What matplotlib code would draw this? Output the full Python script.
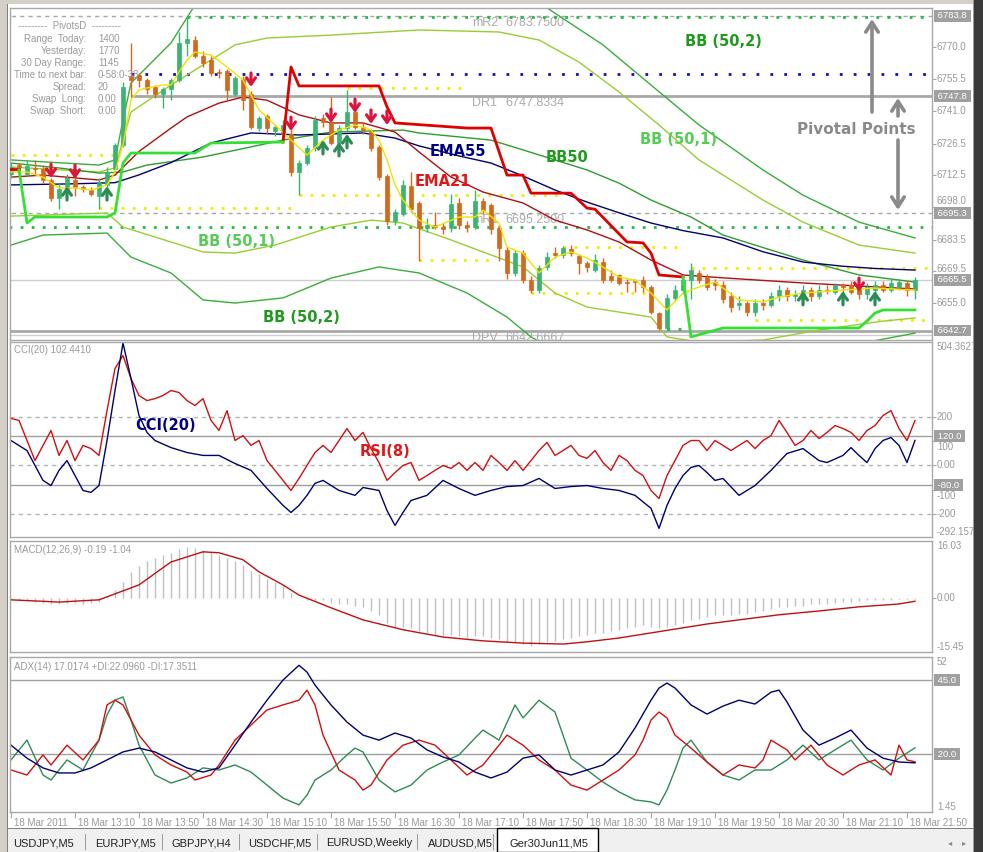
import matplotlib
matplotlib.use("Agg")
import matplotlib.pyplot as plt
from matplotlib.patches import Rectangle, FancyArrowPatch
from matplotlib.transforms import blended_transform_factory, ScaledTranslation

# ---------------- data ----------------
tick_bars = [0, 8, 16, 24, 32, 40, 48, 56, 64, 72, 80, 88, 96, 104, 112]
tick_labels = ["18 Mar 2011", "18 Mar 13:10", "18 Mar 13:50", "18 Mar 14:30", "18 Mar 15:10",
               "18 Mar 15:50", "18 Mar 16:30", "18 Mar 17:10", "18 Mar 17:50", "18 Mar 18:30",
               "18 Mar 19:10", "18 Mar 19:50", "18 Mar 20:30", "18 Mar 21:10", "18 Mar 21:50"]

opens = [6713, 6717, 6713, 6715.5, 6715, 6710, 6702, 6705, 6710, 6707,
         6705.5, 6703, 6708, 6715, 6726, 6757, 6757.3, 6755, 6752, 6749,
         6751, 6755, 6771.6, 6773, 6766, 6764, 6758.6, 6759, 6749, 6755.5,
         6749, 6733.5, 6739, 6732, 6731, 6731, 6714, 6718, 6724.5, 6738,
         6736, 6727, 6733.5, 6740.6, 6734, 6732, 6725, 6712, 6692, 6695,
         6707.5, 6700, 6688.6, 6690, 6689, 6688.6, 6700, 6690, 6689, 6701,
         6699, 6688.6, 6679, 6668.5, 6677.4, 6665.3, 6661, 6671, 6677.4, 6676.5,
         6679.3, 6676, 6673, 6670, 6673.4, 6667, 6667.6, 6664.4, 6664.8, 6665.3,
         6662, 6650.5, 6644, 6657.3, 6661, 6665.3, 6668.4, 6666.6, 6664.4, 6663,
         6658, 6654, 6655, 6651, 6655, 6654, 6658, 6661, 6658, 6657,
         6661, 6658, 6661, 6660, 6663, 6663, 6663, 6659, 6661, 6663,
         6661, 6662, 6664, 6661]
closes = [6716, 6716, 6716.5, 6715, 6710, 6702, 6706, 6711, 6707, 6706,
          6704, 6709, 6714, 6726, 6752, 6755, 6755, 6751, 6749, 6751,
          6755, 6771.6, 6773.4, 6766, 6762.6, 6758, 6758.2, 6750.6, 6756, 6746,
          6734, 6738, 6733.5, 6734, 6735, 6714, 6718, 6724.5, 6737, 6736,
          6727, 6733.5, 6740.6, 6734, 6732.7, 6724.5, 6711.5, 6692, 6696, 6708,
          6697, 6688.6, 6690, 6689, 6688, 6699.3, 6690, 6689.3, 6701, 6696.7,
          6688, 6679.7, 6668.5, 6677.4, 6665.3, 6661, 6670.6, 6675.6, 6676.5, 6679.7,
          6677.4, 6673, 6671, 6674.3, 6665.3, 6665.3, 6664, 6664, 6664.6, 6662,
          6651, 6644, 6657.3, 6660.8, 6665.3, 6669.7, 6665.3, 6662, 6663, 6657,
          6653, 6655, 6651, 6655, 6654, 6658, 6661, 6658, 6659, 6661,
          6658, 6661, 6660.5, 6663, 6662, 6660, 6659, 6662, 6663, 6661,
          6664, 6664.5, 6661, 6665.5]
highs = [6718, 6718, 6719, 6719, 6717, 6711, 6709, 6713, 6712, 6708,
         6707, 6711, 6716, 6727, 6754, 6771.6, 6758, 6756, 6753, 6752,
         6756, 6776.6, 6783.3, 6775, 6768, 6766, 6760, 6760, 6757, 6757,
         6750, 6739, 6740, 6735, 6737, 6733, 6719, 6726, 6739, 6740,
         6747.4, 6735, 6750.6, 6742, 6736, 6733, 6726, 6713, 6697, 6710,
         6714, 6701, 6693, 6696, 6691, 6704, 6702, 6692, 6705.7, 6702,
         6700, 6690, 6680, 6679, 6679, 6667, 6672, 6678, 6680, 6680.5,
         6681, 6677, 6674, 6677, 6675, 6670, 6668, 6666, 6666, 6667,
         6663, 6651, 6659, 6663, 6667, 6673, 6670, 6668, 6666, 6665,
         6660, 6658, 6656, 6657, 6657, 6660, 6663, 6662, 6661, 6663,
         6662, 6663, 6663, 6664, 6664, 6665, 6664, 6664, 6665, 6665,
         6666, 6666, 6665, 6666.5]
lows = [6711, 6714, 6712, 6713, 6709, 6701, 6697, 6703, 6703, 6705,
        6703, 6697, 6706, 6714, 6725, 6747.4, 6752, 6749, 6747, 6742.5,
        6746, 6754, 6766, 6765, 6761, 6757, 6756, 6746, 6748, 6741.6,
        6733, 6732, 6731, 6730, 6729, 6712, 6703.4, 6717, 6723, 6734,
        6726, 6726, 6732, 6733, 6731, 6723, 6710, 6690, 6690, 6694,
        6696, 6674, 6687, 6688, 6686, 6687, 6688, 6687, 6688, 6695,
        6686, 6674, 6666, 6667, 6664, 6659.5, 6659.5, 6670, 6675, 6675,
        6676, 6668, 6669, 6669, 6664, 6664.5, 6663, 6660, 6660, 6660,
        6650, 6643, 6643, 6656, 6659, 6657, 6664, 6661, 6661, 6655,
        6651, 6652, 6649, 6649, 6652, 6653, 6656, 6656, 6656, 6655,
        6656, 6657, 6659, 6659, 6658, 6659, 6657, 6657, 6656, 6660,
        6660, 6661, 6658, 6657]

ema55_x = [0, 8, 13, 16, 20, 25, 30, 36, 44, 48, 51, 56, 60, 64, 68, 72, 76, 80, 84, 89, 94, 99, 104, 108, 113]
ema55_v = [6708, 6708.5, 6709, 6712.5, 6718, 6726.8, 6731.3, 6730.4, 6731.3, 6729, 6725.5, 6721, 6717.8,
           6712, 6705.7, 6700.3, 6695.5, 6690.9, 6687.5, 6684.2, 6678, 6673.4, 6671.5, 6670.5, 6669.8]
ema21_x = [0, 4, 11, 13, 16, 20, 22, 26, 29, 32, 36, 40, 44, 48, 51, 55, 59, 64, 68, 72, 76, 80, 84, 89, 99, 113]
ema21_v = [6711.5, 6712.4, 6710.2, 6712.4, 6723, 6733.5, 6738.5, 6744.7, 6747.4, 6746, 6739.4, 6735.8, 6735.8,
           6731.7, 6722.8, 6711.5, 6704.8, 6699.9, 6692.2, 6687.8, 6682.4, 6674.3, 6667.6, 6666.3, 6664, 6661.3]
bbmid_x = [0, 6, 11, 14, 17, 24, 34, 40, 49, 51, 60, 64, 68, 72, 76, 80, 85, 89, 99, 106, 113]
bbmid_v = [6717.8, 6715.6, 6713.3, 6713.8, 6716.9, 6720.5, 6728.1, 6731.7, 6732.6, 6731.3, 6728.1, 6723.7,
           6719.2, 6714.7, 6708.8, 6701.2, 6693.6, 6685.5, 6674.3, 6667.6, 6664.4]
bb1up_x = [0, 11, 13, 14, 15, 20, 24, 28, 32, 40, 51, 61, 66, 71, 76, 81, 86, 94, 99, 106, 113]
bb1up_v = [6716, 6713.8, 6715.6, 6728.1, 6740.7, 6752.8, 6761.8, 6770.8, 6773.9, 6775.2, 6777.5, 6776.6,
           6773, 6763.1, 6749.7, 6734.9, 6719.2, 6701.2, 6691.3, 6681, 6677.4]
bb2up_x = [0, 11, 13, 14, 15, 20, 23, 25, 65, 67, 74, 80, 86, 94, 99, 106, 113]
bb2up_v = [6719.2, 6716.9, 6719.2, 6737.1, 6753.7, 6771.7, 6788.7, 6795.4, 6795.4, 6787.4, 6770.8, 6752.8,
           6734.9, 6714.7, 6703.4, 6691.3, 6684.2]
bb1lo_x = [0, 12, 14, 24, 28, 33, 40, 45, 49, 55, 64, 68, 72, 80, 82, 86, 94, 101, 109, 113]
bb1lo_v = [6694, 6695.4, 6689.1, 6677.9, 6677.4, 6681, 6689.1, 6692.2, 6690.9, 6683.3, 6671.2, 6659.5,
           6653.2, 6648.7, 6639.8, 6637.5, 6638.4, 6642.9, 6646.9, 6648.3]
bb2lo_x = [0, 4, 12, 15, 20, 24, 28, 34, 40, 46, 51, 57, 62, 65, 69, 80, 92, 105, 113]
bb2lo_v = [6681, 6685.5, 6686.4, 6675.6, 6668.5, 6656.4, 6655, 6657.3, 6666.2, 6671.2, 6668.5, 6659.5,
           6648.7, 6639.8, 6631.7, 6627.2, 6629.4, 6636.1, 6641.5]
fast_x = [0, 2, 4, 6, 8, 10, 12, 13, 14, 15, 16, 17, 19, 20, 21, 22, 23, 25, 27, 29, 31, 33, 35, 37, 39, 41,
          43, 45, 46, 47, 48, 49, 51, 53, 56, 58, 59, 61, 62, 64, 66, 68, 70, 72, 74, 76, 78, 80, 82, 84, 86,
          88, 91, 94, 96, 99, 104, 108, 113]
fast_v = [6713.8, 6713.8, 6711.5, 6706.6, 6706.6, 6705.7, 6708, 6713.8, 6725.9, 6746.1,
          6750.6, 6751.5, 6752.8, 6752.8, 6758.6, 6764, 6767.6, 6766.3, 6760.9, 6755.1,
          6741.6, 6734.9, 6728.1, 6721.4, 6728.1, 6732.6, 6734.9, 6732.6, 6728.1, 6719.2,
          6708, 6701.2, 6692.2, 6689.1, 6693.6, 6693.6, 6696.7, 6690.9, 6680.1, 6677.4,
          6668.5, 6675.6, 6677.9, 6675.2, 6671.2, 6666.7, 6665.3, 6659.5, 6651.9, 6659.5,
          6662.2, 6664.4, 6656.4, 6655.5, 6657.7, 6659.5, 6660.8, 6661.7, 6660.8]
stop_red1_x = [0, 1]
stop_red1_v = [6715.1, 6715.1]
stop_red2_x = [34, 35, 36, 46, 47, 48, 57, 60, 62, 64, 65, 70, 72, 73, 77, 79, 80, 81, 84]
stop_red2_v = [6727.2, 6760.9, 6752.4, 6752.4, 6743, 6735.8, 6733.5, 6733.5, 6712.4, 6712.4, 6704.3, 6704.3,
               6697.6, 6697.1, 6682.4, 6682, 6677.4, 6667.6, 6666.7]
stop_grn1_x = [1, 2, 3, 12, 13, 14, 15, 23, 25, 34]
stop_grn1_v = [6714.7, 6690.9, 6693.6, 6693.6, 6695.4, 6717.8, 6722.3, 6722.3, 6726.8, 6727.2]
stop_grn2_x = [84, 85, 89, 106, 107, 108, 109, 113]
stop_grn2_v = [6666.7, 6639.8, 6643.8, 6643.8, 6647, 6650.5, 6651.9, 6651.9]

down_arrow_x = [5, 8, 30, 35, 40, 43, 45, 47, 106]
down_arrow_v = [6714.2, 6713.8, 6755.1, 6735.3, 6738.9, 6743.4, 6738.5, 6738, 6663.1]
up_arrow_x = [7, 12, 39, 41, 42, 99, 104, 108]
up_arrow_v = [6704.3, 6704.3, 6725, 6724.1, 6727.7, 6657.3, 6657.3, 6657.3]

yellow_lvl = [6721.4, 6751.5, 6697.6, 6703.4, 6674.3, 6680.1, 6659.5, 6670.6, 6647.4]
yellow_from = [0, 42, 11, 36, 51, 69, 65, 85, 93]
yellow_to = [13, 57, 35, 69, 60, 84, 80, 115.2, 115.2]
green_lvl = [6689.3, 6783.3, 6643.3]
green_from = [-0.2, 22, 82]
green_to = [115.2, 115.2, 84]
blue_lvl = 6757.7
blue_from = 15

pivot_names = ["mR2", "DR1", "mR1", "DPV"]
pivot_values = [6783.75, 6747.8334, 6695.25, 6642.6667]

main_ticks = [6770.0, 6755.5, 6741.0, 6726.5, 6712.5, 6698.0, 6683.5, 6669.5, 6655.0]
main_boxes = [6783.8, 6747.8, 6695.3, 6665.5, 6642.7]
cci_ticks = [200, 100, 0, -100, -200]
cci_tick_labels = ['200', '100', '0.00', '-100', '-200']

cci_x = [0, 2, 3, 4, 5, 6, 7, 8, 9, 10, 11, 12, 13, 14, 15, 16, 17, 18, 20, 22, 24, 26, 28, 30, 32, 34, 35, 36,
         37, 38, 39, 41, 43, 44, 46, 47, 48, 49, 50, 52, 54, 56, 58, 60, 62, 64, 66, 68, 70, 72, 74, 76, 78, 80,
         81, 82, 83, 84, 85, 86, 87, 88, 89, 91, 92, 93, 95, 97, 99, 101, 102, 104, 105, 106, 107, 108, 109,
         110, 111, 112, 113]
cci_v = [102, 61, 0, -61, -82, -20, 20, -41, -102, -110, -82, 102, 306, 500, 355, 204, 135, 102, 73, 53, 41, 41,
         8, -20, -94, -163, -192, -163, -122, -73, -61, -102, -122, -90, -102, -184, -245, -192, -143, -122,
         -61, -94, -122, -102, -86, -82, -53, -94, -86, -82, -94, -102, -122, -175, -257, -163, -94, -41, -8, 0,
         -29, -61, -53, -122, -102, -82, -20, 49, 69, 20, 12, 41, 73, 41, 12, 69, 102, 114, 82, 12, 102.44]
rsi_v = [192, 184, 102, 20, 82, 143, 41, 102, 20, 82,
         69, 41, 224, 396, 449, 355, 286, 265, 273, 286,
         306, 298, 265, 245, 273, 184, 143, 224, 102, 122,
         82, 102, 20, -20, -61, -102, -53, 0, 53, 82,
         53, 102, 151, 102, 135, 69, 12, -61, -29, 0,
         12, -61, -41, -20, 0, -12, 12, -20, 12, -20,
         41, 12, -20, 20, -20, 20, 61, 94, 41, 61,
         82, 41, 29, 61, 12, -20, 41, 20, -20, -41,
         -102, -135, -41, 20, 82, 102, 102, 61, 102, 82,
         61, 82, 102, 69, 102, 122, 184, 135, 82, 102,
         143, 110, 135, 163, 151, 135, 102, 143, 163, 204,
         224, 151, 102, 184]

macd_hist = [-0.5, -0.8, -1.0, -1.2, -1.5, -1.8, -1.8, -1.5, -1.6, -1.8,
             -1.7, -1.2, 0.5, 2.5, 5, 8, 10, 11.5, 12.5, 13.5,
             14.2, 15.5, 16, 15.8, 15.2, 14.5, 13.5, 12.5, 11.5, 10.5,
             8.5, 7.5, 6, 5, 4, 1.5, 0, -0.8, -0.5, -0.5,
             -1.5, -2, -1.8, -2.5, -3, -4, -5.5, -8, -9, -9,
             -9.5, -10.5, -11, -11.5, -12, -11.5, -12, -12.5, -12, -12,
             -12.5, -13, -14, -14, -14.5, -15, -14.5, -14, -13.5, -13,
             -12.5, -12, -11.5, -11, -11, -10.5, -10, -9.5, -9, -8.5,
             -9, -9.5, -9, -8.5, -8, -7, -6.5, -6, -5.5, -5.5,
             -5.5, -5, -5, -4.5, -4, -3.5, -3, -3, -2.5, -2.5,
             -2, -2, -1.8, -1.5, -1.2, -1.2, -1.0, -0.8, -0.8, -0.6,
             -0.5, -0.4, -0.3, -0.19]
sig_x = [0, 6, 11, 16, 20, 24, 26, 29, 31, 34, 36, 40, 44, 49, 54, 59, 64, 69, 72, 76, 80, 84, 87, 91, 96, 101,
         106, 111, 113]
sig_v = [-0.6, -1.3, -0.6, 4.1, 11.3, 14.5, 14.2, 12, 8.2, 4.1, 0.9, -3.1, -6.9, -10, -12.3, -13.5, -14.2, -14.5,
         -13.8, -12.6, -11, -9.4, -8.2, -6.9, -5.3, -4.1, -2.8, -1.9, -1.04]

adx_x = [0, 2, 4, 6, 8, 10, 12, 14, 16, 18, 20, 22, 24, 26, 28, 30, 32, 34, 36, 37, 38, 40, 42, 44, 46, 48, 50,
         52, 54, 56, 58, 60, 62, 64, 66, 68, 70, 72, 74, 76, 78, 80, 81, 82, 83, 85, 87, 89, 91, 93, 95, 96, 97,
         99, 101, 103, 105, 107, 109, 111, 113]
adx_v = [23, 18.6, 15.3, 13.6, 13.6, 15.3, 18, 20.7, 22, 20.7, 18, 15.3, 13.9, 15.3, 23, 30.8, 38.2, 45, 50, 47.7,
         43.3, 36.6, 30.8, 26.4, 24.7, 27.1, 25.4, 21.4, 19, 17.3, 13.9, 11.9, 13.9, 18.6, 19.7, 14.6, 12.9,
         14.6, 16.3, 20.7, 28.8, 38.2, 42.3, 44, 42.3, 36.6, 33.5, 36.2, 38.2, 36.9, 40.9, 41.6, 37.6, 28.1,
         23, 25.4, 28.1, 22, 18.6, 17.3, 17.02]
mdi_x = [0, 2, 4, 5, 7, 9, 11, 12, 13, 14, 15, 16, 18, 20, 22, 23, 25, 26, 28, 30, 32, 34, 36, 37, 38, 39, 41,
         43, 44, 45, 47, 49, 51, 53, 55, 57, 59, 61, 62, 64, 66, 68, 70, 72, 74, 76, 78, 79, 80, 81, 82, 83, 85,
         87, 89, 91, 93, 94, 95, 97, 98, 100, 102, 104, 106, 108, 110, 111, 112, 113]
mdi_v = [14.6, 12.9, 19.7, 16.3, 23, 18, 24.7, 36.6, 38.2, 36.6, 31.5, 26.4, 19.7, 16.3, 13.9, 11.2, 12.9, 16.3,
         24.7, 29.8, 34.9, 36.6, 38.2, 41.6, 36.6, 26.4, 14.6, 11.2, 7.8, 9.5, 18, 23, 24.7, 23, 18, 12.9,
         16.3, 23, 26.4, 23, 18, 14.6, 9.5, 7.8, 11.2, 14.6, 19.7, 24.7, 31.5, 34.2, 32.2, 26.4, 22, 17.3,
         12.9, 16.3, 15.3, 18, 24.7, 21.4, 18, 23, 16.3, 12.9, 16.3, 18, 12.9, 23, 18, 17.35]
pdi_x = [0, 2, 4, 5, 7, 9, 11, 12, 13, 14, 15, 16, 18, 20, 22, 24, 26, 28, 30, 32, 34, 36, 37, 38, 40, 42, 43,
         44, 46, 48, 50, 52, 54, 56, 58, 59, 61, 63, 64, 66, 68, 70, 72, 74, 76, 78, 80, 81, 82, 83, 84, 85,
         87, 89, 91, 93, 95, 97, 99, 101, 103, 105, 107, 109, 111, 113]
pdi_v = [18, 24.7, 12.9, 11.2, 18, 14.6, 24.7, 33.2, 38.2, 39.3, 31.5, 23, 12.9, 10.2, 11.9, 15.3, 14.6, 16.3,
         13.9, 9.5, 5.1, 2.8, 6.1, 11.2, 14.6, 19.7, 22, 20.7, 11.2, 7.2, 9.5, 14.6, 17.3, 19.7, 25.4, 28.1,
         24.7, 36.6, 32.2, 38.2, 34.2, 18.6, 14.6, 10.5, 7.2, 4.5, 3.8, 2.8, 7.8, 14.6, 22, 24.7, 17.3, 12.9,
         11.2, 14.6, 14.6, 18, 23, 18, 21.4, 24.7, 18, 14.6, 18.6, 22.1]

info_rows = [("Range  Today:", "1400"), ("Yesterday:", "1770"), ("30 Day Range:", "1145"),
             ("Time to next bar:", "0-58:0-38"), ("Spread:", "20"), ("Swap  Long:", "0.00"),
             ("Swap  Short:", "0.00")]
tabs = ["USDJPY,M5", "EURJPY,M5", "GBPJPY,H4", "USDCHF,M5", "EURUSD,Weekly", "AUDUSD,M5", "Ger30Jun11,M5"]

# ---------------- drawing ----------------
W, H = 983, 852
NARROW = ['Liberation Sans Narrow', 'Liberation Sans', 'DejaVu Sans']
SANS = ['Liberation Sans', 'DejaVu Sans']
BOLD = ['DejaVu Sans']
GRAYTXT = '#9a9a9a'

fig = plt.figure(figsize=(W / 100, H / 100), dpi=100)
fig.patch.set_facecolor('white')


def ax_px(x0, y0, x1, y1):
    a = fig.add_axes([x0 / W, 1 - y1 / H, (x1 - x0) / W, (y1 - y0) / H])
    a.set_facecolor('white')
    for s in a.spines.values():
        s.set_color('#a8a8a8')
        s.set_linewidth(1)
    a.set_xticks([])
    a.set_yticks([])
    a.set_xlim(-0.125, 115.125)
    return a


def ftext(x, y, s, **kw):
    kw.setdefault('va', 'center')
    fig.text(x / W, 1 - y / H, s, **kw)


def right_labels(a, vals, labels, shifts=None):
    # tick marks at the true values, labels as texts (some nudged clear of the boxes)
    a.yaxis.tick_right()
    a.set_yticks(vals)
    a.set_yticklabels([''] * len(vals))
    a.tick_params(axis='y', length=3, width=0.8, color='#a8a8a8')
    shifts = shifts or {}
    base = blended_transform_factory(a.transAxes, a.transData)
    for v, s in zip(vals, labels):
        dy = shifts.get(s, 0)
        tr = base + ScaledTranslation(0, -dy / 100, fig.dpi_scale_trans)
        a.text(1 + 5 / 922, v, s, transform=tr, ha='left', va='center', fontsize=7, color=GRAYTXT,
               family=NARROW, clip_on=False)


def box_label(a, val, txt):
    a.text(1 + 3 / 922, val, " " + txt + " ", transform=blended_transform_factory(a.transAxes, a.transData),
           ha='left', va='center', fontsize=6.8, color='white', family=NARROW, clip_on=False, zorder=20,
           bbox=dict(boxstyle='square,pad=0.15', fc='#a0a0a0', ec='none'))


def edge_label(a, top, txt):
    a.text(1 + 5 / 922, 1.0 if top else 0.0, txt, transform=a.transAxes, ha='left',
           va='top' if top else 'bottom', fontsize=7, color=GRAYTXT, family=NARROW, clip_on=False)


# ---- main panel ----
ax = ax_px(10, 8, 932, 340)
ax.set_ylim(6638.42, 6787.36)

ax.hlines(pivot_values[0], -1, 116, color='#a8a8a8', lw=1, ls=(0, (3, 3)), zorder=1)
ax.hlines(pivot_values[1], 15, 116, color='#a8a8a8', lw=2, zorder=1)
ax.hlines(pivot_values[2], -1, 116, color='#a8a8a8', lw=1, ls=(0, (3, 3)), zorder=1)
ax.hlines(main_boxes[3], -1, 116, color='#cfcfcf', lw=1, zorder=1)
ax.hlines(pivot_values[3], -1, 116, color='#a8a8a8', lw=2, zorder=1)
ax.hlines(6640.5, -1, 116, color='#d0d0d0', lw=1, zorder=1)
for lv, a0, a1 in zip(yellow_lvl, yellow_from, yellow_to):
    ax.hlines(lv, a0, a1, color='#eeee00', lw=2, ls=(0, (1, 3)), zorder=1.2)
for lv, a0, a1 in zip(green_lvl, green_from, green_to):
    ax.hlines(lv, a0, a1, color='#22bb44', lw=2, ls=(0, (1, 3)), zorder=1.2)
ax.hlines(blue_lvl, blue_from, 116, color='#1010c0', lw=2, ls=(0, (1, 4)), zorder=1.2)

for nm, pv in zip(pivot_names, pivot_values):
    ax.text(57.6, pv - 3.2, nm, fontsize=9, color='#ababab', family=SANS, va='center', zorder=1.1)
    ax.text(61.75, pv - 3.2, f"{pv:.4f}", fontsize=9, color='#ababab', family=SANS, va='center', zorder=1.1)

ax.plot(bb2up_x, bb2up_v, color='#3aae3a', lw=1, zorder=2)
ax.plot(bb2lo_x, bb2lo_v, color='#3aae3a', lw=1, zorder=2)
ax.plot(bb1up_x, bb1up_v, color='#9acd32', lw=1, zorder=2)
ax.plot(bb1lo_x, bb1lo_v, color='#9acd32', lw=1, zorder=2)
ax.plot(bbmid_x, bbmid_v, color='#2e9e2e', lw=1, zorder=2)
ax.plot(ema55_x, ema55_v, color='#000070', lw=1, zorder=2)
ax.plot(ema21_x, ema21_v, color='#b01010', lw=1, zorder=2)

up_c, dn_c = '#3cb371', '#d2691e'
for i, (o, h, l, c) in enumerate(zip(opens, highs, lows, closes)):
    col = up_c if c >= o else dn_c
    ax.vlines(i, l, h, color=col, lw=1, zorder=2.5)
    lo_b = min(o, c)
    hb = max(abs(c - o), 0.3)
    ax.add_patch(Rectangle((i - 0.3, lo_b), 0.6, hb, fc=col, ec=col, lw=0.5, zorder=2.6))

ax.plot(fast_x, fast_v, color='#f0e400', lw=1, zorder=3)
ax.plot(stop_red1_x, stop_red1_v, color='#e00000', lw=2, zorder=3.2)
ax.plot(stop_red2_x, stop_red2_v, color='#e00000', lw=2, zorder=3.2)
ax.plot(stop_grn1_x, stop_grn1_v, color='#33e033', lw=2, zorder=3.2)
ax.plot(stop_grn2_x, stop_grn2_v, color='#33e033', lw=2, zorder=3.2)

for xi, v in zip(down_arrow_x, down_arrow_v):
    ax.annotate('', xy=(xi, v - 3.1), xytext=(xi, v + 3.1),
                arrowprops=dict(arrowstyle='->,head_length=0.45,head_width=0.32', lw=2.3, color='#dc143c',
                                shrinkA=0, shrinkB=0), zorder=4)
for xi, v in zip(up_arrow_x, up_arrow_v):
    ax.annotate('', xy=(xi, v + 3.1), xytext=(xi, v - 3.1),
                arrowprops=dict(arrowstyle='->,head_length=0.45,head_width=0.32', lw=2.3, color='#2e8b57',
                                shrinkA=0, shrinkB=0), zorder=4)

right_labels(ax, main_ticks, [f"{v:.1f}" for v in main_ticks], {"6698.0": -6, "6669.5": -2})
for v in main_boxes:
    box_label(ax, v, f"{v:.1f}")

# ---- CCI panel ----
axc = ax_px(10, 342, 932, 537)
axc.set_ylim(-292.157, 504.3627)
for lv in (200, 0, -200):
    axc.axhline(lv, color='#b4b4b4', lw=1, ls=(0, (3, 3)), zorder=1)
for lv in (120, -80):
    axc.axhline(lv, color='#a0a0a0', lw=1, zorder=1)
axc.plot(range(len(rsi_v)), rsi_v, color='#d01010', lw=1, zorder=2)
axc.plot(cci_x, cci_v, color='#000070', lw=1, zorder=2.1)
right_labels(axc, cci_ticks, cci_tick_labels, {"100": 6, "-100": 6})
box_label(axc, 120, '120.0')
box_label(axc, -80, '-80.0')
edge_label(axc, True, '504.3627')
edge_label(axc, False, '-292.157')

# ---- MACD panel ----
axd = ax_px(10, 541, 932, 652)
axd.set_ylim(-17.0, 17.9)
axd.vlines(range(len(macd_hist)), 0, macd_hist, color='#c0c0c0', lw=1, zorder=1)
axd.plot(sig_x, sig_v, color='#c01010', lw=1, zorder=2)
right_labels(axd, [0], ['0.00'])
edge_label(axd, True, '16.03')
edge_label(axd, False, '-15.45')

# ---- ADX panel ----
axa = ax_px(10, 657, 932, 812)
axa.set_ylim(0.4, 52.8)
axa.axhline(45, color='#a0a0a0', lw=1, zorder=1)
axa.axhline(20, color='#a0a0a0', lw=1, zorder=1)
axa.plot(pdi_x, pdi_v, color='#2e8b57', lw=1, zorder=2)
axa.plot(mdi_x, mdi_v, color='#d01010', lw=1, zorder=2)
axa.plot(adx_x, adx_v, color='#000070', lw=1, zorder=2.1)
box_label(axa, 45, '45.0')
box_label(axa, 20, '20.0')
edge_label(axa, True, '52')
edge_label(axa, False, '1.45')
axa.set_xticks(tick_bars)
axa.set_xticklabels(tick_labels)
axa.tick_params(axis='x', length=4, width=0.8, color='#a8a8a8', labelsize=7, labelcolor=GRAYTXT, pad=0.5)
for t in axa.get_xticklabels():
    t.set_ha('left')
    t.set_fontfamily(NARROW)
    t.set_transform(t.get_transform() + ScaledTranslation(3 / 100, 0, fig.dpi_scale_trans))

# ---- texts in main panel ----
ftext(70, 26, "---------  PivotsD  ---------", fontsize=7, color=GRAYTXT, family=SANS, ha='center')
for k, (lab, val) in enumerate(info_rows):
    yy = 38.5 + 12.1 * k
    ftext(86, yy, lab, fontsize=7, color=GRAYTXT, family=SANS, ha='right')
    ftext(98, yy, val, fontsize=7, color=GRAYTXT, family=SANS, ha='left')

ftext(430, 152, "EMA55", fontsize=10.5, color='#000080', weight='bold', family=BOLD)
ftext(415, 181, "EMA21", fontsize=10.5, color='#e01818', weight='bold', family=BOLD)
ftext(546, 157, "BB50", fontsize=10.5, color='#1f9a1f', weight='bold', family=BOLD)
ftext(640, 140, "BB (50,1)", fontsize=10.5, color='#55cc55', weight='bold', family=BOLD)
ftext(685, 42, "BB (50,2)", fontsize=10.5, color='#1f9a1f', weight='bold', family=BOLD)
ftext(198, 241, "BB (50,1)", fontsize=10.5, color='#55cc55', weight='bold', family=BOLD)
ftext(263, 318, "BB (50,2)", fontsize=10.5, color='#1f9a1f', weight='bold', family=BOLD)
ftext(797, 130, "Pivotal Points", fontsize=11, color='#8a8a8a', weight='bold', family=BOLD)
ftext(135, 426, "CCI(20)", fontsize=10.5, color='#000080', weight='bold', family=BOLD)
ftext(360, 452, "RSI(8)", fontsize=10.5, color='#e01818', weight='bold', family=BOLD)

arrow_kw = dict(arrowstyle='->,head_length=0.7,head_width=0.45', lw=2.6, color='#8a8a8a', shrinkA=0, shrinkB=0)
for (xa, ya0, ya1) in [(872, 112, 19), (898, 116, 98), (898, 140, 210)]:
    fig.add_artist(FancyArrowPatch((xa / W, 1 - ya0 / H), (xa / W, 1 - ya1 / H),
                                   transform=fig.transFigure, mutation_scale=10, **arrow_kw))

ftext(14, 350, "CCI(20) 102.4410", fontsize=7, color=GRAYTXT, family=SANS)
ftext(14, 550, "MACD(12,26,9) -0.19 -1.04", fontsize=7, color=GRAYTXT, family=SANS)
ftext(14, 667, "ADX(14) 17.0174 +DI:22.0960 -DI:17.3511", fontsize=7, color=GRAYTXT, family=SANS)


# ---- window chrome ----
def frect(x0, y0, x1, y1, **kw):
    fig.add_artist(Rectangle((x0 / W, 1 - y1 / H), (x1 - x0) / W, (y1 - y0) / H,
                             transform=fig.transFigure, **kw))


frect(0, 0, 7, 852, fc='#d4d0c8', ec='none')
frect(7, 0, 8, 852, fc='#808080', ec='none')
frect(0, 0, 983, 4, fc='#d4d0c8', ec='none')
frect(974, 0, 983, 852, fc='#3a3a3a', ec='none')
frect(973, 0, 974, 852, fc='#9a9a9a', ec='none')
frect(8, 829, 973, 852, fc='#f0f0f0', ec='none')
frect(8, 828, 973, 829, fc='#808080', ec='none')
frect(497, 828, 598, 852, fc='white', ec='black', lw=1)
tab_x = [13, 95, 171, 248, 326, 428, 510]
for tx, name in zip(tab_x, tabs):
    ftext(tx, 843, name, fontsize=8, color='#222222', family=SANS)
for sx in [85, 162, 239, 317, 417, 493]:
    frect(sx, 834, sx + 1, 850, fc='#9a9a9a', ec='none')
ftext(948, 843, "\u25c2", fontsize=6, color='#888888')
ftext(962, 843, "\u25b8", fontsize=6, color='#888888')

fig.savefig("out.png", dpi=100, facecolor='white')
